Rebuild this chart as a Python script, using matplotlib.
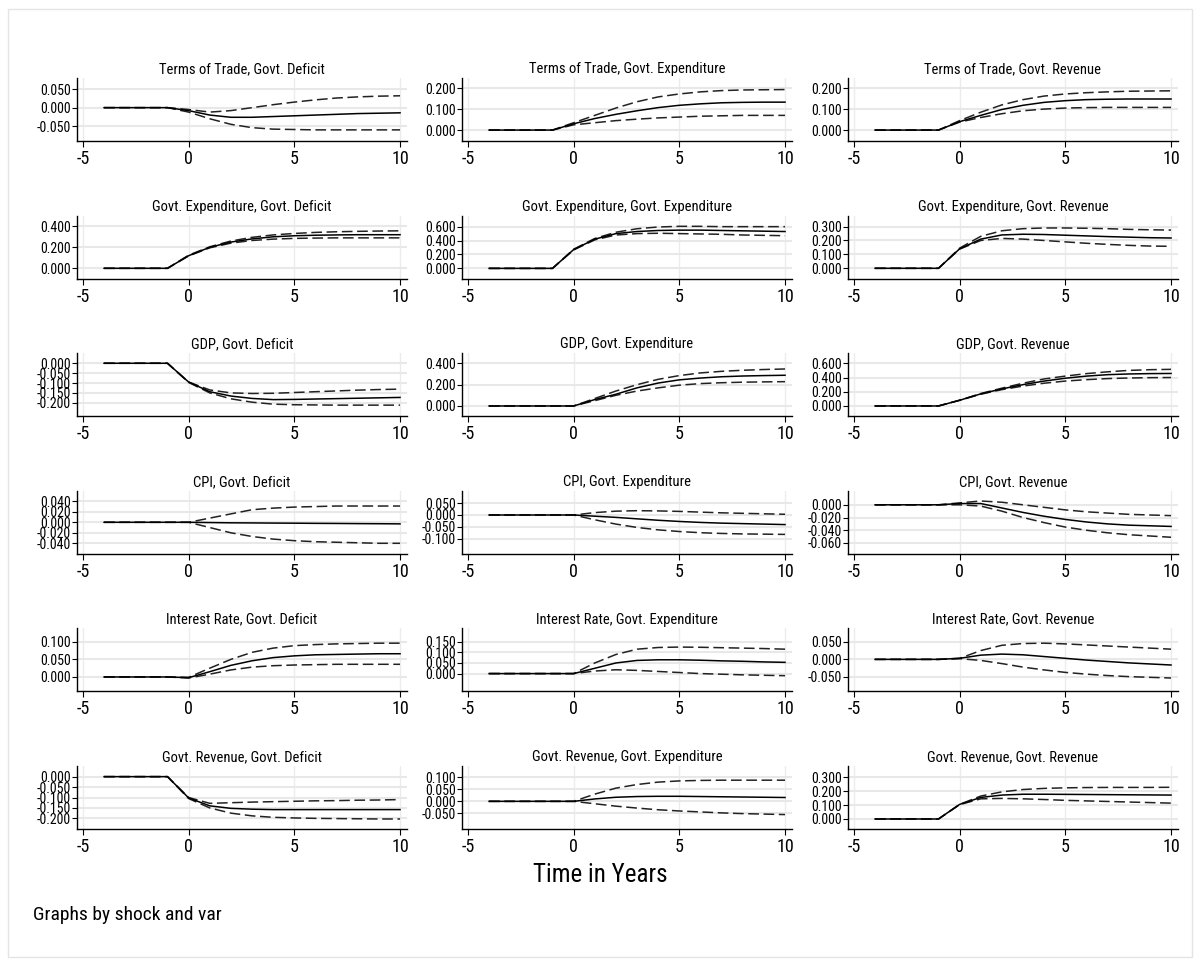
import matplotlib
matplotlib.use("Agg")
import matplotlib.pyplot as plt
from matplotlib import font_manager as fm
from matplotlib.ticker import FormatStrFormatter, FixedLocator
from matplotlib.patches import Rectangle

# pick a condensed sans font if one is installed
_names = {}
for f in fm.fontManager.ttflist:
    _names.setdefault(f.name, set()).add(str(f.stretch))
_family = None
_stretch = 'normal'
for cand in ['Liberation Sans Narrow', 'Roboto Condensed', 'Open Sans Condensed',
             'DejaVu Sans Condensed', 'Noto Sans Condensed']:
    if cand in _names:
        _family = cand
        break
if _family is None:
    for nm, st in _names.items():
        if any(s in ('condensed', 'semi-condensed', '75', '87.5', 'extra-condensed') for s in st) and 'Mono' not in nm and 'Serif' not in nm:
            _family = nm
            _stretch = 'condensed'
            break
if _family is None:
    _family = 'Liberation Sans'
plt.rcParams['font.family'] = [_family, 'Liberation Sans', 'DejaVu Sans']
plt.rcParams['font.stretch'] = _stretch
plt.rcParams['axes.unicode_minus'] = False

years = [-4, -3, -2, -1, 0, 1, 2, 3, 4, 5, 6, 7, 8, 9, 10]
pre = [0, 0, 0, 0]

titles = [
    "Terms of Trade, Govt. Deficit", "Terms of Trade, Govt. Expenditure", "Terms of Trade, Govt. Revenue",
    "Govt. Expenditure, Govt. Deficit", "Govt. Expenditure, Govt. Expenditure", "Govt. Expenditure, Govt. Revenue",
    "GDP, Govt. Deficit", "GDP, Govt. Expenditure", "GDP, Govt. Revenue",
    "CPI, Govt. Deficit", "CPI, Govt. Expenditure", "CPI, Govt. Revenue",
    "Interest Rate, Govt. Deficit", "Interest Rate, Govt. Expenditure", "Interest Rate, Govt. Revenue",
    "Govt. Revenue, Govt. Deficit", "Govt. Revenue, Govt. Expenditure", "Govt. Revenue, Govt. Revenue",
]

# impulse responses (center) from year 0 to 10
irf = [
    [-0.008, -0.02, -0.026, -0.026, -0.024, -0.022, -0.02, -0.018, -0.016, -0.015, -0.014],
    [0.03, 0.055, 0.075, 0.092, 0.107, 0.118, 0.125, 0.13, 0.132, 0.133, 0.133],
    [0.04, 0.07, 0.098, 0.118, 0.132, 0.14, 0.145, 0.147, 0.148, 0.148, 0.148],
    [0.12, 0.2, 0.25, 0.28, 0.3, 0.31, 0.315, 0.318, 0.32, 0.32, 0.32],
    [0.27, 0.42, 0.5, 0.53, 0.545, 0.55, 0.55, 0.545, 0.54, 0.535, 0.53],
    [0.14, 0.21, 0.24, 0.245, 0.243, 0.238, 0.233, 0.228, 0.224, 0.22, 0.218],
    [-0.095, -0.144, -0.166, -0.178, -0.184, -0.183, -0.181, -0.179, -0.177, -0.175, -0.173],
    [0.0, 0.06, 0.11, 0.17, 0.215, 0.245, 0.262, 0.274, 0.281, 0.285, 0.288],
    [0.08, 0.17, 0.24, 0.3, 0.35, 0.39, 0.42, 0.44, 0.45, 0.455, 0.457],
    [0.0, -0.0005, -0.001, -0.0012, -0.0015, -0.0017, -0.002, -0.0022, -0.0025, -0.0027, -0.003],
    [0.0, -0.005, -0.01, -0.016, -0.022, -0.027, -0.031, -0.034, -0.036, -0.038, -0.04],
    [0.002, 0.002, -0.005, -0.012, -0.018, -0.023, -0.027, -0.03, -0.032, -0.033, -0.034],
    [-0.002, 0.015, 0.033, 0.046, 0.055, 0.06, 0.063, 0.064, 0.065, 0.066, 0.066],
    [0.0, 0.025, 0.05, 0.062, 0.065, 0.065, 0.063, 0.06, 0.058, 0.055, 0.053],
    [0.003, 0.012, 0.015, 0.013, 0.008, 0.003, -0.002, -0.006, -0.01, -0.013, -0.016],
    [-0.102, -0.14, -0.152, -0.156, -0.158, -0.158, -0.158, -0.158, -0.158, -0.158, -0.158],
    [0.0, 0.01, 0.017, 0.02, 0.021, 0.021, 0.02, 0.019, 0.018, 0.017, 0.016],
    [0.105, 0.155, 0.172, 0.178, 0.178, 0.177, 0.176, 0.175, 0.174, 0.173, 0.172],
]

upper = [
    [-0.005, -0.012, -0.008, 0.0, 0.008, 0.015, 0.021, 0.026, 0.029, 0.031, 0.032],
    [0.035, 0.07, 0.105, 0.135, 0.158, 0.172, 0.182, 0.188, 0.191, 0.192, 0.193],
    [0.045, 0.085, 0.12, 0.145, 0.162, 0.172, 0.178, 0.182, 0.185, 0.186, 0.187],
    [0.125, 0.205, 0.26, 0.295, 0.318, 0.332, 0.342, 0.348, 0.352, 0.355, 0.357],
    [0.275, 0.43, 0.52, 0.57, 0.595, 0.605, 0.605, 0.6, 0.6, 0.6, 0.6],
    [0.145, 0.23, 0.27, 0.285, 0.29, 0.29, 0.288, 0.285, 0.28, 0.277, 0.275],
    [-0.095, -0.135, -0.15, -0.153, -0.152, -0.148, -0.144, -0.14, -0.136, -0.133, -0.131],
    [0.0, 0.07, 0.14, 0.2, 0.25, 0.285, 0.31, 0.325, 0.335, 0.342, 0.347],
    [0.08, 0.175, 0.25, 0.32, 0.38, 0.42, 0.455, 0.48, 0.5, 0.51, 0.515],
    [0.0, 0.008, 0.016, 0.024, 0.027, 0.029, 0.03, 0.031, 0.031, 0.031, 0.031],
    [0.0, 0.01, 0.016, 0.018, 0.017, 0.015, 0.012, 0.009, 0.007, 0.005, 0.003],
    [0.003, 0.006, 0.004, 0.0, -0.004, -0.008, -0.011, -0.013, -0.015, -0.016, -0.017],
    [-0.001, 0.025, 0.05, 0.07, 0.082, 0.089, 0.092, 0.094, 0.095, 0.096, 0.096],
    [0.0, 0.05, 0.09, 0.115, 0.123, 0.125, 0.124, 0.122, 0.12, 0.118, 0.115],
    [0.003, 0.025, 0.04, 0.045, 0.046, 0.044, 0.041, 0.038, 0.035, 0.032, 0.029],
    [-0.1, -0.128, -0.125, -0.122, -0.12, -0.118, -0.116, -0.115, -0.113, -0.112, -0.11],
    [0.0, 0.03, 0.055, 0.07, 0.08, 0.085, 0.087, 0.088, 0.088, 0.088, 0.088],
    [0.105, 0.165, 0.195, 0.212, 0.22, 0.224, 0.226, 0.227, 0.227, 0.227, 0.228],
]

lower = [
    [-0.012, -0.03, -0.045, -0.054, -0.058, -0.059, -0.06, -0.06, -0.06, -0.06, -0.06],
    [0.025, 0.035, 0.045, 0.052, 0.058, 0.062, 0.066, 0.068, 0.07, 0.07, 0.07],
    [0.038, 0.06, 0.078, 0.092, 0.1, 0.105, 0.107, 0.108, 0.108, 0.108, 0.108],
    [0.118, 0.195, 0.24, 0.265, 0.278, 0.285, 0.288, 0.29, 0.29, 0.29, 0.29],
    [0.265, 0.41, 0.48, 0.5, 0.505, 0.5, 0.495, 0.49, 0.48, 0.475, 0.47],
    [0.138, 0.2, 0.215, 0.21, 0.2, 0.19, 0.18, 0.172, 0.165, 0.16, 0.158],
    [-0.097, -0.15, -0.18, -0.197, -0.207, -0.21, -0.211, -0.212, -0.212, -0.212, -0.212],
    [0.0, 0.05, 0.1, 0.14, 0.17, 0.195, 0.21, 0.218, 0.223, 0.226, 0.228],
    [0.08, 0.165, 0.23, 0.28, 0.32, 0.35, 0.37, 0.385, 0.393, 0.398, 0.4],
    [0.0, -0.01, -0.02, -0.027, -0.032, -0.035, -0.037, -0.038, -0.039, -0.04, -0.04],
    [0.0, -0.02, -0.038, -0.052, -0.062, -0.069, -0.074, -0.077, -0.079, -0.08, -0.081],
    [0.0, -0.002, -0.01, -0.02, -0.028, -0.035, -0.04, -0.044, -0.047, -0.049, -0.051],
    [-0.003, 0.008, 0.02, 0.028, 0.032, 0.034, 0.035, 0.036, 0.036, 0.036, 0.036],
    [0.0, 0.012, 0.018, 0.015, 0.01, 0.005, 0.0, -0.003, -0.006, -0.008, -0.01],
    [0.002, -0.003, -0.012, -0.022, -0.03, -0.037, -0.042, -0.046, -0.049, -0.051, -0.053],
    [-0.105, -0.15, -0.175, -0.188, -0.195, -0.198, -0.2, -0.201, -0.202, -0.203, -0.203],
    [0.0, -0.01, -0.02, -0.028, -0.035, -0.04, -0.044, -0.048, -0.051, -0.053, -0.055],
    [0.103, 0.145, 0.148, 0.145, 0.14, 0.134, 0.13, 0.126, 0.122, 0.118, 0.114],
]

yticks = [
    [-0.05, 0.0, 0.05], [0.0, 0.1, 0.2], [0.0, 0.1, 0.2],
    [0.0, 0.2, 0.4], [0.0, 0.2, 0.4, 0.6], [0.0, 0.1, 0.2, 0.3],
    [-0.2, -0.15, -0.1, -0.05, 0.0], [0.0, 0.2, 0.4], [0.0, 0.2, 0.4, 0.6],
    [-0.04, -0.02, 0.0, 0.02, 0.04], [-0.1, -0.05, 0.0, 0.05], [-0.06, -0.04, -0.02, 0.0],
    [0.0, 0.05, 0.1], [0.0, 0.05, 0.1, 0.15], [-0.05, 0.0, 0.05],
    [-0.2, -0.15, -0.1, -0.05, 0.0], [-0.05, 0.0, 0.05, 0.1], [0.0, 0.1, 0.2, 0.3],
]

ylims = [
    (-0.090, 0.080), (-0.052, 0.248), (-0.052, 0.248),
    (-0.098, 0.502), (-0.147, 0.759), (-0.074, 0.379),
    (-0.268, 0.051), (-0.096, 0.495), (-0.144, 0.742),
    (-0.060, 0.060), (-0.162, 0.101), (-0.077, 0.022),
    (-0.041, 0.138), (-0.084, 0.213), (-0.091, 0.088),
    (-0.251, 0.051), (-0.115, 0.147), (-0.072, 0.381),
]

xticks = [-5, 0, 5, 10]

condensed = _family != 'Liberation Sans'
ysz = 10 if condensed else 8.6
xsz = 13 if condensed else 11
tsz = 10.5 if condensed else 9.2

W, H = 1200, 965
fig = plt.figure(figsize=(W / 100, H / 100), dpi=100)
fig.patch.set_facecolor('white')
fig.patches.append(Rectangle((8 / W, 8 / H), (W - 16) / W, (H - 17) / H,
                             transform=fig.transFigure, fill=False,
                             edgecolor='#e4e4e4', linewidth=1.0))

col_left = [77, 462, 848]
ax_w = 330
ax_h = 63
row_top0 = 78
row_pitch = 137.6

for i in range(18):
    r, c = divmod(i, 3)
    top = row_top0 + r * row_pitch
    ax = fig.add_axes([col_left[c] / W, 1 - (top + ax_h) / H, ax_w / W, ax_h / H])
    yc = pre + irf[i]
    yu = pre + upper[i]
    yl = pre + lower[i]
    ax.plot(years, yu, color='#222222', lw=1.1, dashes=(7, 3))
    ax.plot(years, yl, color='#222222', lw=1.1, dashes=(7, 3))
    ax.plot(years, yc, color='black', lw=1.1)
    ax.set_xlim(-5.28, 10.33)
    ax.set_ylim(*ylims[i])
    ax.xaxis.set_major_locator(FixedLocator(xticks))
    ax.yaxis.set_major_locator(FixedLocator(yticks[i]))
    ax.yaxis.set_major_formatter(FormatStrFormatter('%.3f'))
    ax.xaxis.set_major_formatter(FormatStrFormatter('%d'))
    ax.grid(True, axis='y', color='#e8e8e8', lw=1.5)
    ax.grid(True, axis='x', color='#ececec', lw=1.0)
    ax.set_axisbelow(True)
    for s in ['top', 'right']:
        ax.spines[s].set_visible(False)
    for s in ['left', 'bottom']:
        ax.spines[s].set_linewidth(1.0)
        ax.spines[s].set_color('black')
    ax.tick_params(axis='y', labelsize=ysz, length=3.5, width=0.8, pad=1)
    ax.tick_params(axis='x', labelsize=xsz, length=4.5, width=0.8, pad=2)
    ax.set_title(titles[i], fontsize=tsz, pad=3.5)
    ax.set_facecolor('white')

fig.text(600 / W, 1 - 875 / H, "Time in Years", ha='center', va='center', fontsize=18)
fig.text(33 / W, 1 - 915 / H, "Graphs by shock and var", ha='left', va='center', fontsize=14)

fig.savefig("out.png", dpi=100, facecolor='white')
